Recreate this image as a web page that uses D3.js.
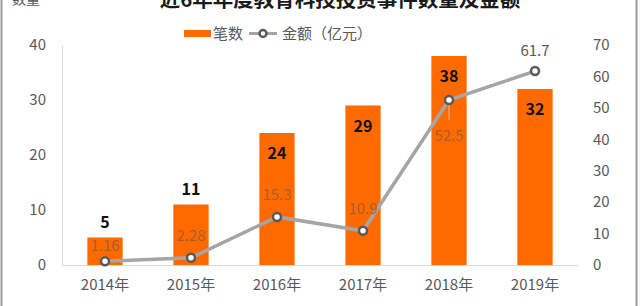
<!DOCTYPE html>
<html>
<head>
<meta charset="utf-8">
<script src="https://cdn.jsdelivr.net/npm/d3@7/dist/d3.min.js"></script>
<style>
  html, body { margin: 0; padding: 0; background: #fff; }
  svg { display: block; font-family: "Noto Sans CJK SC", "Noto Sans", sans-serif; }
</style>
</head>
<body>
<svg id="chart" width="640" height="306"></svg>
<script>
// data
const years = ['2014年', '2015年', '2016年', '2017年', '2018年', '2019年'];
const counts = [5, 11, 24, 29, 38, 32];
const amounts = [1.16, 2.28, 15.3, 10.9, 52.5, 61.7];
const amountLabels = ['1.16', '2.28', '15.3', '10.9', '52.5', '61.7'];
const leftTicks = [0, 10, 20, 30, 40];
const rightTicks = [0, 10, 20, 30, 40, 50, 60, 70];

const W = 640, H = 306;
const svg = d3.select('#chart');
const orange = '#ff6a00';
const gray = '#a5a5a5';

// frame edges
svg.append('line').attr('x1', 1.5).attr('x2', 1.5).attr('y1', 0).attr('y2', H)
    .attr('stroke', '#9a9a9a').attr('stroke-width', 2);
svg.append('line').attr('x1', 636.5).attr('x2', 636.5).attr('y1', 0).attr('y2', H)
    .attr('stroke', '#9a9a9a').attr('stroke-width', 2);

// title (cut off at the top, as in the source image)
svg.append('text')
    .attr('x', 340).attr('y', 7)
    .attr('text-anchor', 'middle')
    .attr('font-size', 20.5).attr('font-weight', 'bold').attr('fill', '#1a1a1a')
    .text('近6年年度教育科技投资事件数量及金额');
svg.append('text')
    .attr('x', 26).attr('y', 4)
    .attr('text-anchor', 'middle')
    .attr('font-size', 14).attr('fill', '#595959')
    .text('数量');

const x = d3.scaleBand().domain(years).range([62, 578]).paddingInner(0.59).paddingOuter(0.295);
const yL = d3.scaleLinear().domain([0, 40]).range([265, 45]);
const yR = d3.scaleLinear().domain([0, 70]).range([265, 45]);

// left axis
const gL = svg.append('g').attr('transform', 'translate(62,0)')
    .call(d3.axisLeft(yL).tickValues(leftTicks).tickSize(0).tickPadding(16));
gL.select('.domain').attr('stroke', '#d9d9d9');
gL.selectAll('text').attr('font-size', 15).attr('fill', '#595959')
    .attr('font-family', '"Noto Sans CJK SC", sans-serif');

// right axis
const gR = svg.append('g').attr('transform', 'translate(578,0)')
    .call(d3.axisRight(yR).tickValues(rightTicks).tickSize(0).tickPadding(15));
gR.select('.domain').remove();
gR.selectAll('text').attr('font-size', 15).attr('fill', '#595959')
    .attr('font-family', '"Noto Sans CJK SC", sans-serif');

// bottom axis
const gX = svg.append('g').attr('transform', 'translate(0,265)')
    .call(d3.axisBottom(x).tickSize(0).tickPadding(14));
gX.select('.domain').attr('stroke', '#d9d9d9');
gX.selectAll('text').attr('font-size', 15).attr('fill', '#595959')
    .attr('font-family', '"Noto Sans CJK SC", sans-serif');

// bars
svg.append('g').selectAll('rect')
    .data(counts)
    .enter().append('rect')
    .attr('x', (d, i) => x(years[i]))
    .attr('y', d => yL(d))
    .attr('width', x.bandwidth())
    .attr('height', d => yL(0) - yL(d))
    .attr('fill', orange);

// bar labels
svg.append('g').selectAll('text')
    .data(counts)
    .enter().append('text')
    .attr('x', (d, i) => x(years[i]) + x.bandwidth() / 2)
    .attr('y', d => d < 20 ? yL(d) - 10 : yL(d) + 26)
    .attr('text-anchor', 'middle')
    .attr('font-size', 16).attr('font-weight', 'bold').attr('fill', '#111')
    .text(d => d);

// line
const cx = (d, i) => x(years[i]) + x.bandwidth() / 2;
const line = d3.line().x((d, i) => cx(d, i)).y(d => yR(d));
svg.append('path').datum(amounts)
    .attr('d', line).attr('fill', 'none')
    .attr('stroke', gray).attr('stroke-width', 3.5);

// leader for 52.5
svg.append('line')
    .attr('x1', cx(0, 4)).attr('x2', cx(0, 4))
    .attr('y1', yR(amounts[4]) + 4).attr('y2', yR(amounts[4]) + 20)
    .attr('stroke', '#f3b690').attr('stroke-width', 1);

svg.append('g').selectAll('circle')
    .data(amounts)
    .enter().append('circle')
    .attr('cx', cx).attr('cy', d => yR(d)).attr('r', 4)
    .attr('fill', '#fff').attr('stroke', '#595959').attr('stroke-width', 2.5);

// line labels
const labelDy = [-10, -17, -17, -17, 41, -15];
svg.append('g').selectAll('text')
    .data(amounts)
    .enter().append('text')
    .attr('x', cx)
    .attr('y', (d, i) => yR(d) + labelDy[i])
    .attr('text-anchor', 'middle')
    .attr('font-size', 15)
    .attr('fill', (d, i) => i < 5 ? '#8a5a3a' : '#595959')
    .attr('fill-opacity', (d, i) => i < 5 ? 0.75 : 1)
    .text((d, i) => amountLabels[i]);

// legend
const lg = svg.append('g');
lg.append('rect').attr('x', 184).attr('y', 30).attr('width', 27).attr('height', 7).attr('fill', orange);
lg.append('text').attr('x', 213).attr('y', 39).attr('font-size', 15).attr('fill', '#595959').text('笔数');
lg.append('line').attr('x1', 249).attr('x2', 277).attr('y1', 33.5).attr('y2', 33.5)
    .attr('stroke', gray).attr('stroke-width', 3);
lg.append('circle').attr('cx', 263).attr('cy', 33.5).attr('r', 3.5)
    .attr('fill', '#fff').attr('stroke', '#595959').attr('stroke-width', 2.5);
lg.append('text').attr('x', 282).attr('y', 39).attr('font-size', 15).attr('fill', '#595959').text('金额（亿元）');
</script>
</body>
</html>
